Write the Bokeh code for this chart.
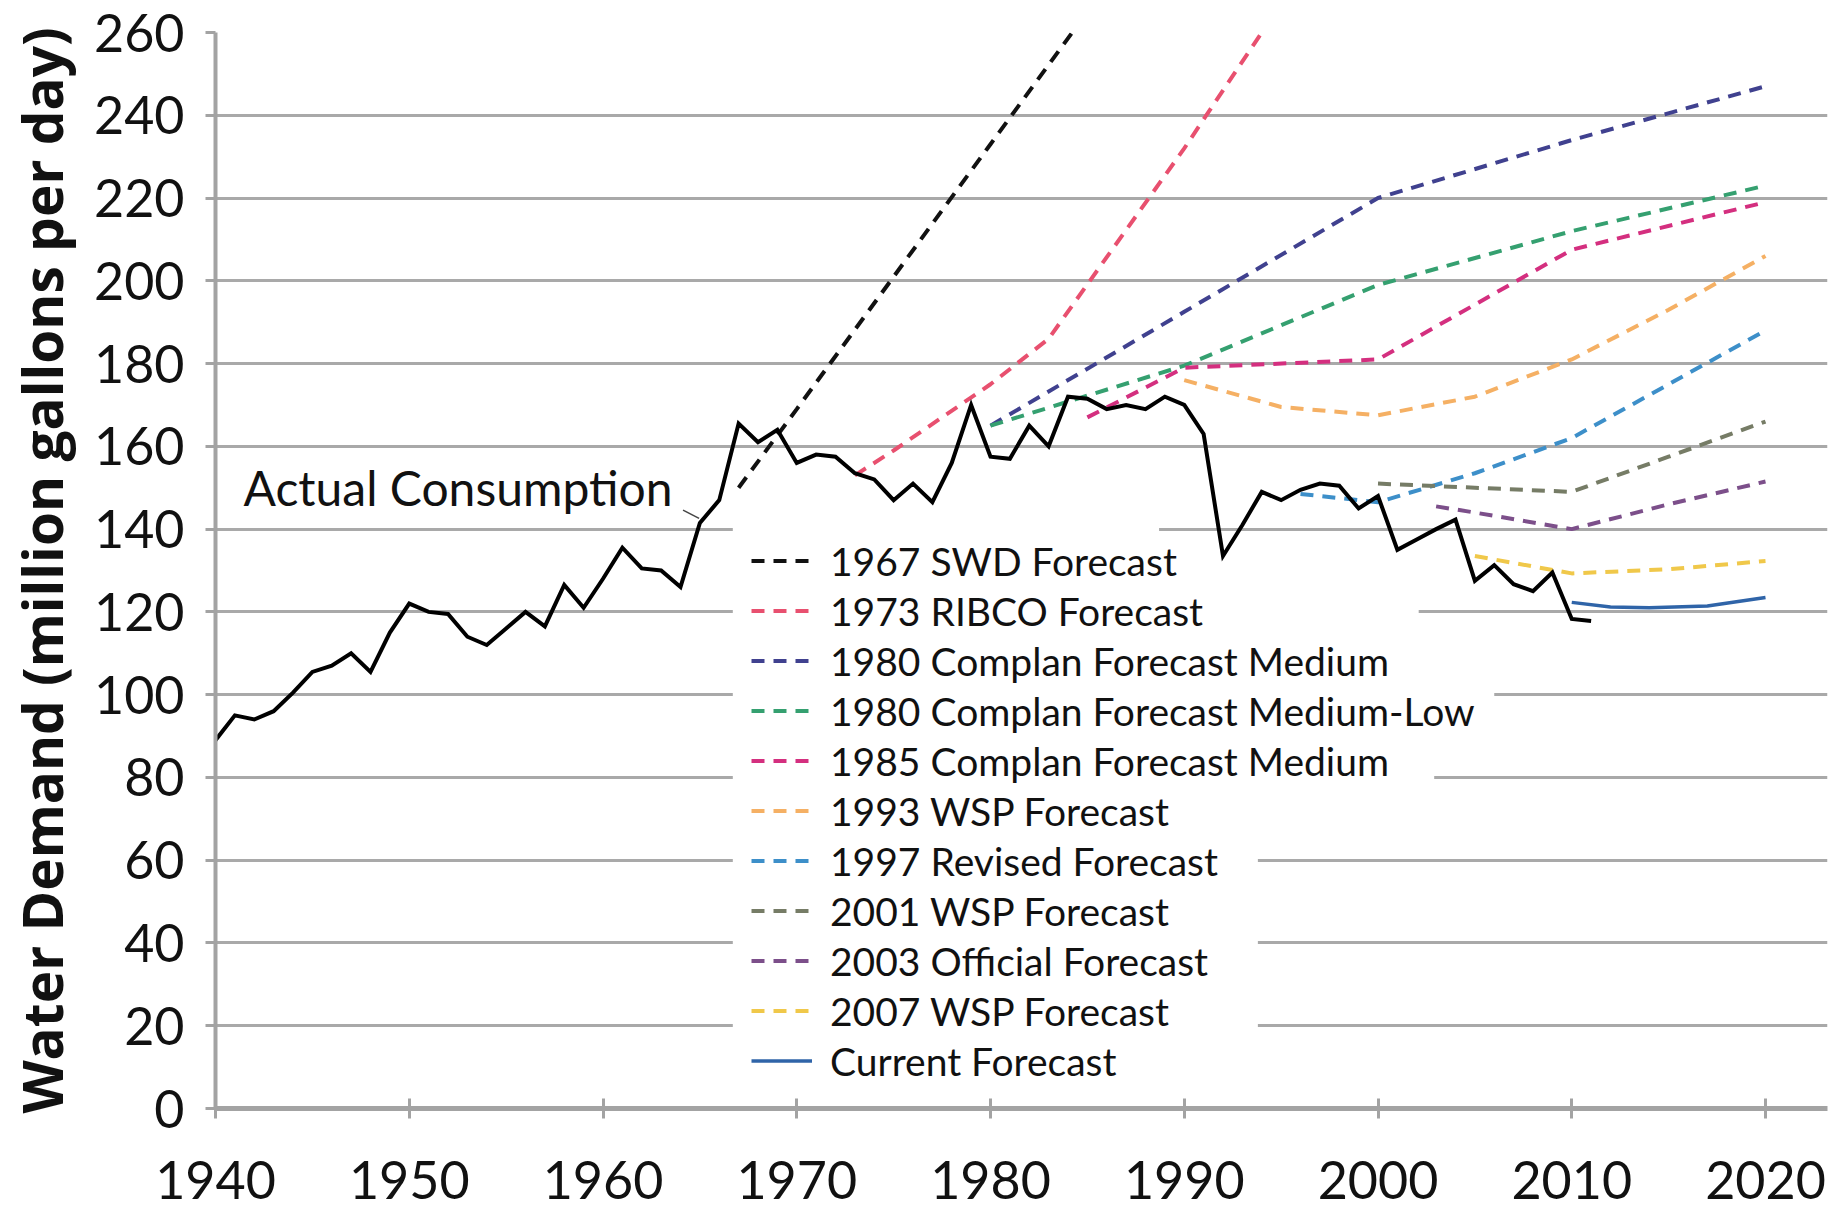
from bokeh.plotting import figure
from bokeh.models import (FixedTicker, Legend, LegendItem, Label, BoxAnnotation,
                          Range1d)
from bokeh.embed import file_html
from bokeh.resources import INLINE

FONT = "Lato"

# ---------------- data ----------------
x_ticks = [1940, 1950, 1960, 1970, 1980, 1990, 2000, 2010, 2020]
y_ticks = [0, 20, 40, 60, 80, 100, 120, 140, 160, 180, 200, 220, 240, 260]

actual_years = list(range(1940, 2012))
actual = [89, 95, 94, 96, 100.5, 105.5, 107, 110, 105.5, 115,
          122, 120, 119.5, 114, 112, 116, 120, 116.5, 126.5, 121,
          128, 135.5, 130.5, 130, 126, 141.5, 147, 165.5, 161, 164,
          156, 158, 157.5, 153.5, 152, 147, 151, 146.5, 156, 170,
          157.5, 157, 165, 160, 172, 171.5, 169, 170, 169, 172,
          170, 163, 133.5, 141, 149, 147, 149.5, 151, 150.5, 145,
          148, 135, 137.5, 140, 142.3, 127.5, 131.3, 126.7, 125, 129.5,
          118.3, 117.8]

f1967_years = [1967, 1970, 1975, 1980, 1985, 1990]
f1967 = [150, 169, 201, 233, 265, 297]

f1973_years = [1973, 1975, 1980, 1983, 1990, 1995]
f1973 = [153, 159, 175, 186, 232, 267]

f1980m_years = [1980, 1990, 2000, 2010, 2020]
f1980m = [165, 192.5, 220, 234, 247]

f1980ml_years = [1980, 1990, 2000, 2010, 2020]
f1980ml = [165, 179.5, 199, 212, 223]

f1985_years = [1985, 1990, 2000, 2010, 2020]
f1985 = [167, 179, 181, 207.5, 219]

f1993_years = [1990, 1995, 2000, 2005, 2010, 2015, 2020]
f1993 = [176, 169.5, 167.5, 172, 181, 193, 206]

f1997_years = [1996, 2000, 2005, 2010, 2015, 2020]
f1997 = [148.5, 146.5, 153.5, 162, 175, 188]

f2001_years = [2000, 2005, 2010, 2015, 2020]
f2001 = [151, 150, 149, 157.5, 166]

f2003_years = [2003, 2005, 2010, 2015, 2020]
f2003 = [145.5, 144, 140, 146, 151.5]

f2007_years = [2005, 2010, 2015, 2020]
f2007 = [133.5, 129.3, 130.3, 132.3]

current_years = [2010, 2012, 2014, 2017, 2020]
current = [122.3, 121.2, 121, 121.4, 123.5]

series = [
    ("1967 SWD Forecast", f1967_years, f1967, "#111111", "dash"),
    ("1973 RIBCO Forecast", f1973_years, f1973, "#e8506f", "dash"),
    ("1980 Complan Forecast Medium", f1980m_years, f1980m, "#40418f", "dash"),
    ("1980 Complan Forecast Medium-Low", f1980ml_years, f1980ml, "#35a070", "dash"),
    ("1985 Complan Forecast Medium", f1985_years, f1985, "#d42f7f", "dash"),
    ("1993 WSP Forecast", f1993_years, f1993, "#f5b064", "dash"),
    ("1997 Revised Forecast", f1997_years, f1997, "#3d8fc9", "dash"),
    ("2001 WSP Forecast", f2001_years, f2001, "#767c66", "dash"),
    ("2003 Official Forecast", f2003_years, f2003, "#7c4f8a", "dash"),
    ("2007 WSP Forecast", f2007_years, f2007, "#f0c84a", "dash"),
    ("Current Forecast", current_years, current, "#2f64a8", "solid"),
]

# gridline segments hidden behind the legend (value, right end year)
legend_gap_left = 1966.7
legend_gap_values = [140, 120, 100, 80, 60, 40, 20]
legend_gap_right = [1988.7, 2002.1, 2006.0, 2002.9, 1993.8, 1993.8, 1993.8]

# ---------------- figure ----------------
p = figure(width=1831, height=1208, output_backend="svg", toolbar_location=None,
           x_range=Range1d(1940, 2023.2), y_range=Range1d(0, 260),
           min_border_left=215, min_border_right=4, min_border_top=32,
           min_border_bottom=100)
p.outline_line_color = None
p.background_fill_color = "white"
p.border_fill_color = "white"

xt = FixedTicker(ticks=x_ticks)
yt = FixedTicker(ticks=y_ticks)
p.xaxis.ticker = xt
p.yaxis.ticker = yt
p.xgrid.grid_line_color = None
p.ygrid.ticker = yt
p.ygrid.grid_line_color = "#a9a9a9"
p.ygrid.grid_line_width = 3

for ax in (p.xaxis, p.yaxis):
    ax.axis_line_color = "#a3a3a3"
    ax.major_tick_line_color = "#a3a3a3"
    ax.major_tick_line_width = 3
    ax.minor_tick_line_color = None
    ax.major_label_text_font = FONT
    ax.major_label_text_font_size = "52px"
    ax.major_label_text_color = "#111111"

p.xaxis.axis_line_width = 5
p.yaxis.axis_line_width = 4
p.xaxis.major_tick_in = 10
p.xaxis.major_tick_out = 10
p.xaxis.major_label_standoff = 42
p.yaxis.major_tick_in = 0
p.yaxis.major_tick_out = 10
p.yaxis.major_label_standoff = 21

p.yaxis.axis_label = "Water Demand (million gallons per day)"
p.yaxis.axis_label_text_font = "Open Sans"
p.yaxis.axis_label_text_font_style = "bold"
p.yaxis.axis_label_text_font_size = "55px"
p.yaxis.axis_label_text_color = "#111111"
p.yaxis.axis_label_standoff = 12

# white-out of gridlines behind the legend
for gv, gr in zip(legend_gap_values, legend_gap_right):
    p.add_layout(BoxAnnotation(left=legend_gap_left, right=gr, bottom=gv - 2, top=gv + 2,
                               fill_color="white", fill_alpha=1.0, line_alpha=0,
                               level="underlay"), "center")

items = []
for name, xs, ys, col, style in series:
    if style == "dash":
        r = p.line(xs, ys, line_color=col, line_width=4, line_dash="13 9")
    else:
        r = p.line(xs, ys, line_color=col, line_width=3.5)
    items.append(LegendItem(label=name, renderers=[r]))

p.line(actual_years, actual, line_color="#000000", line_width=4, line_join="miter")

# annotation: Actual Consumption
p.add_layout(Label(x=1941.45, y=150, text="Actual Consumption", text_font=FONT,
                   text_font_size="48px", text_color="#111111",
                   text_baseline="alphabetic"))
leader_x = [1964.13, 1964.96]
leader_y = [144.6, 142.6]
p.line(leader_x, leader_y, line_color="#444444", line_width=1.5)

legend = Legend(items=items, location=(536, 23.8))
legend.label_text_font = FONT
legend.label_text_font_size = "39px"
legend.label_text_color = "#111111"
legend.glyph_width = 61
legend.glyph_height = 47
legend.label_height = 47
legend.label_standoff = 18
legend.spacing = 3
legend.padding = 0
legend.margin = 0
legend.background_fill_alpha = 0
legend.border_line_alpha = 0
p.add_layout(legend, "center")

open("out.html", "w").write(file_html(p, INLINE))
